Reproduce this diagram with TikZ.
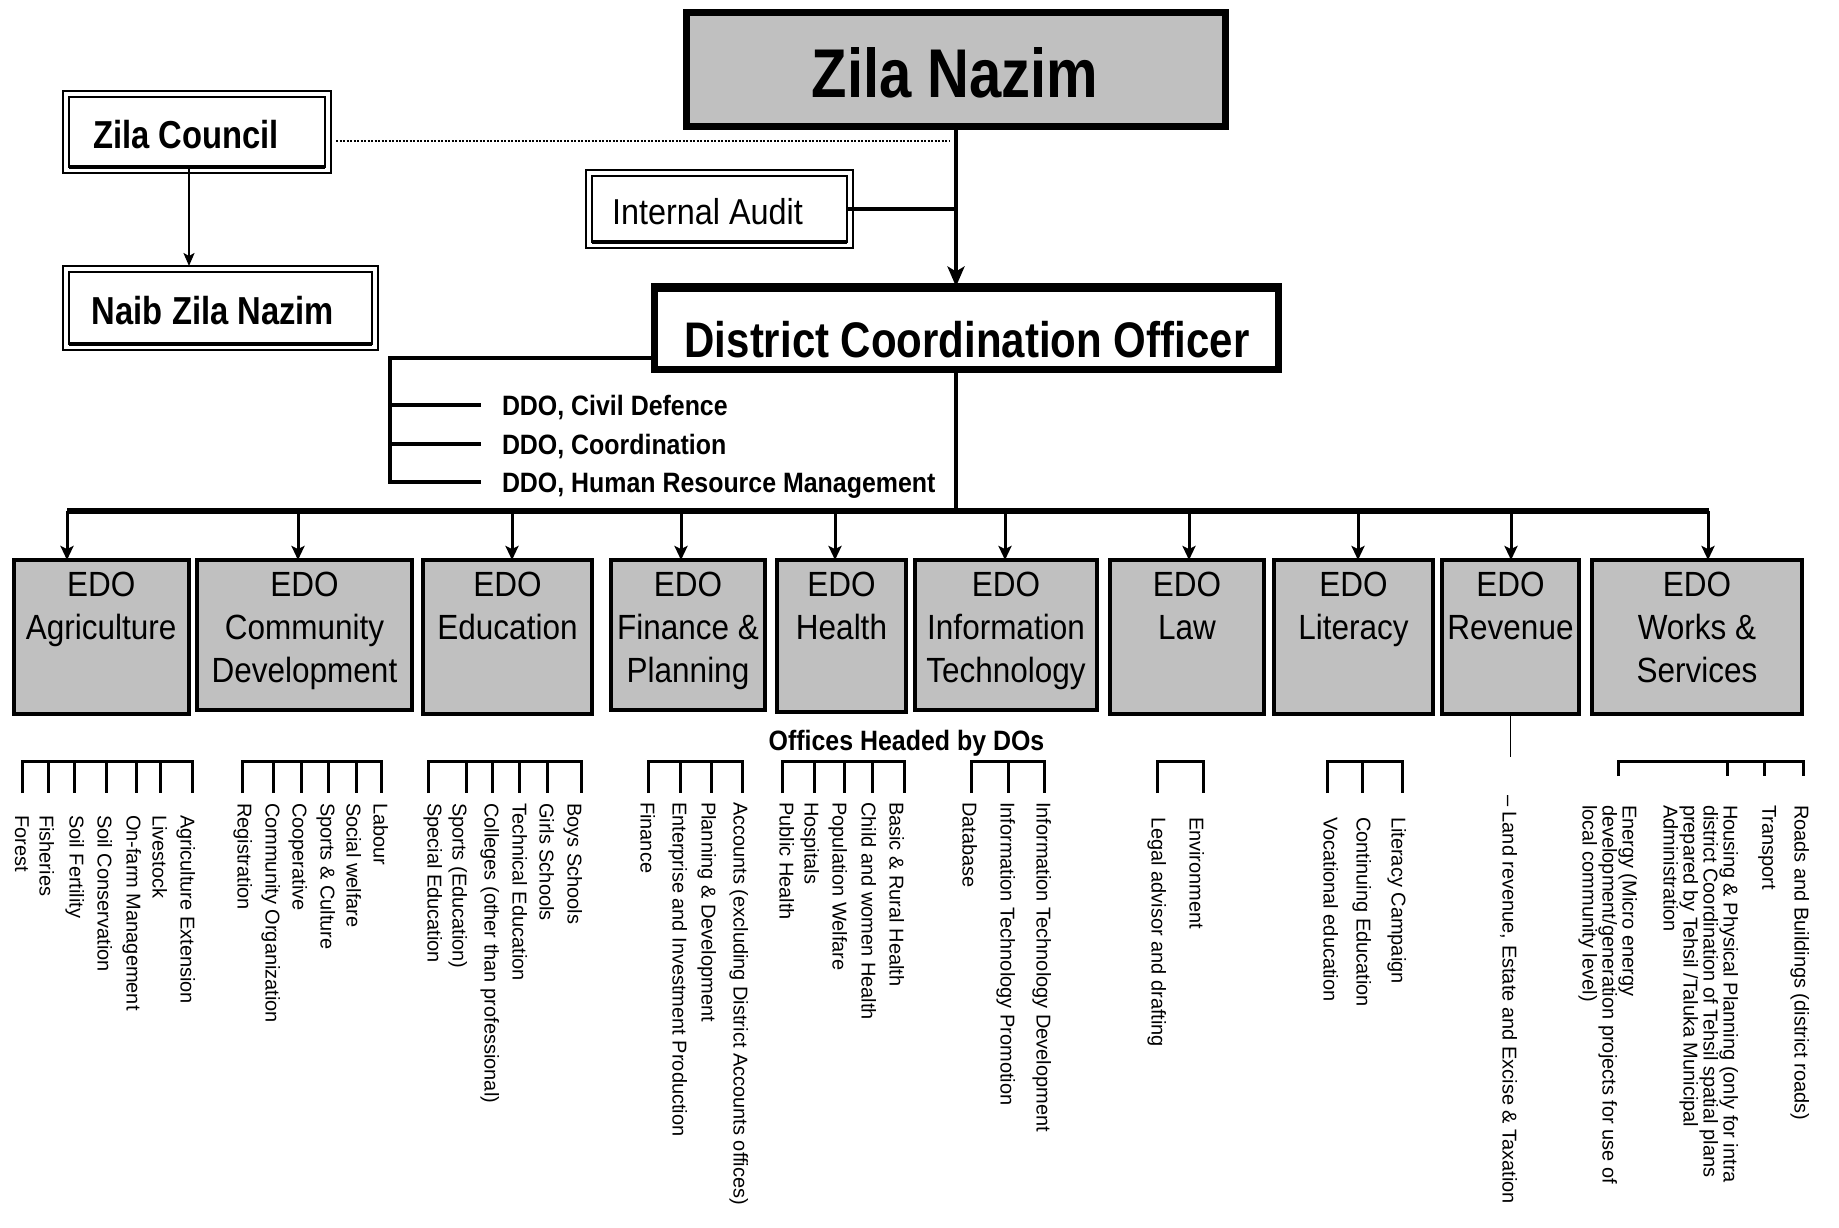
\documentclass[tikz,border=0pt]{standalone}
\usepackage{fontspec}
\setmainfont{Liberation Sans}
\newfontfamily\hdfont[FakeStretch=0.84]{Liberation Sans}
\newfontfamily\ddofont[FakeStretch=0.89]{Liberation Sans}
\newfontfamily\edofont[FakeStretch=0.90]{Liberation Sans}
\usetikzlibrary{arrows.meta}
\definecolor{boxgray}{HTML}{C0C0C0}
\newcommand\obracket[4]{%
  \draw[brk] (#1,#4) -- (#1,761) -- (#2,761) -- (#2,#4);
  \foreach \xx in {#3} {\draw[brk] (\xx,761) -- (\xx,#4);}%
}
\begin{document}
\begin{tikzpicture}[x=1pt,y=-1pt,
  every node/.style={inner sep=0pt,outer sep=0pt},
  graybox/.style={draw,fill=boxgray,line width=7pt},
  whitebox/.style={draw,fill=white,line width=7pt},
  dblbox/.style={draw,fill=white,line width=2.5pt},
  edobox/.style={draw,fill=boxgray,line width=4pt},
  conn/.style={line width=4.5pt},
  brk/.style={line width=3pt},
  edoarrow/.style={line width=3pt,-{Stealth[length=14pt,width=13pt,inset=3pt]}},
  hd/.style={font=\hdfont\bfseries\fontsize{#1}{#1}\selectfont,anchor=base},
  ddo/.style={font=\ddofont\bfseries\fontsize{28}{28}\selectfont,anchor=west,text height=20pt,text depth=0pt},
  edotext/.style={font=\edofont\fontsize{35}{43}\selectfont,align=center,anchor=north},
  sub/.style={font=\fontsize{20}{20}\selectfont,rotate=-90,anchor=north west,align=left},
]
\fill[white] (0,0) rectangle (1839,1228);
\useasboundingbox (0,0) rectangle (1839,1228);

% ---------- top boxes ----------
\node[graybox,minimum width=539pt,minimum height=114pt] (zn) at (956,69.5) {};
\node[hd=69] (znt) at (955,98) {Zila Nazim};

\node[dblbox,minimum width=256pt,minimum height=70pt] (zc) at (197,132) {};
\draw[line width=1.2pt] ([shift={(-6,-6)}]zc.north west) rectangle ([shift={(6,6)}]zc.south east);
\draw[line width=4pt] (zc.south west) -- (zc.south east);
\node[hd=39] (zct) at (186,149) {Zila Council};

\node[dblbox,minimum width=303pt,minimum height=72pt] (nz) at (220.5,308) {};
\draw[line width=1.2pt] ([shift={(-6,-6)}]nz.north west) rectangle ([shift={(6,6)}]nz.south east);
\draw[line width=4pt] (nz.south west) -- (nz.south east);
\node[hd=39] (nzt) at (213,324) {Naib Zila Nazim};

\node[dblbox,minimum width=255pt,minimum height=66pt] (ia) at (719.5,209) {};
\draw[line width=1.2pt] ([shift={(-6,-6)}]ia.north west) rectangle ([shift={(6,6)}]ia.south east);
\draw[line width=4pt] (ia.south west) -- (ia.south east);
\node[font=\edofont\fontsize{36}{36}\selectfont,anchor=base] (iat) at (707.5,224) {Internal Audit};

\node[whitebox,minimum width=624pt,minimum height=83pt] (dco) at (966.5,328) {};
\draw[line width=9pt] ([shift={(0,1)}]dco.north west) -- ([shift={(0,1)}]dco.north east);
\node[hd=50] (dcot) at (967,357) {District Coordination Officer};

\node[ddo] (ddo1) at (502,405) {DDO, Civil Defence};
\node[ddo] (ddo2) at (502,444) {DDO, Coordination};
\node[ddo] (ddo3) at (502,482) {DDO, Human Resource Management};

% ---------- top connectors ----------
\draw[conn,-{Stealth[length=20pt,width=17pt,inset=5pt]}] (zn.south) -- (zn.south |- dco.north);
\draw[conn] (ia.east) -- (ia.east -| zn.south);
\path ([xshift=11pt]zc.east) coordinate (dotL);
\path ([xshift=-7pt]zn.south) coordinate (dotR);
\draw[line width=2.4pt,dash pattern=on 2pt off 1.5pt] (dotL |- 0,141) -- (dotR |- 0,141);
\draw[line width=2.2pt,-{Stealth[length=13pt,width=11pt,inset=3pt]},shorten >=6pt] (189,0 |- zc.south) -- (189,0 |- nz.north);

\draw[conn] (dco.west |- 0,358) -| (390,0 |- ddo3.west) -- ([xshift=-21pt]ddo3.west);
\draw[conn] (390,0 |- ddo1.west) -- ([xshift=-21pt]ddo1.west);
\draw[conn] (390,0 |- ddo2.west) -- ([xshift=-21pt]ddo2.west);

\coordinate (busL) at (67,511);
\coordinate (busR) at (1709,511);
\draw[conn] (zn.south |- dco.south) -- (zn.south |- busL);
\draw[line width=6pt] (busL) -- (busR);

% ---------- EDO boxes ----------
\node[edobox,minimum width=175pt,minimum height=154pt] (agr) at (101.2,637) {};
\node[edobox,minimum width=215pt,minimum height=150pt] (com) at (304.5,635) {};
\node[edobox,minimum width=169pt,minimum height=154pt] (edu) at (507.5,637) {};
\node[edobox,minimum width=154pt,minimum height=150pt] (fin) at (688,635) {};
\node[edobox,minimum width=129pt,minimum height=152pt] (hea) at (841.5,636) {};
\node[edobox,minimum width=182pt,minimum height=150pt] (itc) at (1006,635) {};
\node[edobox,minimum width=154pt,minimum height=154pt] (law) at (1187,637) {};
\node[edobox,minimum width=159pt,minimum height=154pt] (lit) at (1353.5,637) {};
\node[edobox,minimum width=137pt,minimum height=154pt] (rev) at (1510.5,637) {};
\node[edobox,minimum width=210pt,minimum height=154pt] (wor) at (1697,637) {};

\foreach \ax/\bx in {67/agr,298/com,512/edu,681/fin,835/hea,1005/itc,1189/law,1358/lit,1511/rev,1708/wor}
  \draw[edoarrow] (\ax,511) -- (\ax,0 |- \bx.north);

\node[edotext] (agrt) at (agr.north |- 0,572) {EDO\\Agriculture};
\node[edotext] (comt) at (com.north |- 0,572) {EDO\\Community\\Development};
\node[edotext] (edut) at (edu.north |- 0,572) {EDO\\Education};
\node[edotext] (fint) at (fin.north |- 0,572) {EDO\\Finance \&\\Planning};
\node[edotext] (heat) at (hea.north |- 0,572) {EDO\\Health};
\node[edotext] (itct) at (itc.north |- 0,572) {EDO\\Information\\Technology};
\node[edotext] (lawt) at (law.north |- 0,572) {EDO\\Law};
\node[edotext] (litt) at (lit.north |- 0,572) {EDO\\Literacy};
\node[edotext] (revt) at (rev.north |- 0,572) {EDO\\Revenue};
\node[edotext] (wort) at (wor.north |- 0,572) {EDO\\Works \&\\Services};

\node[font=\ddofont\bfseries\fontsize{28}{28}\selectfont,anchor=base] (odo) at (906.5,750) {Offices Headed by DOs};

% ---------- office brackets ----------
\obracket{22}{192}{48,74,106,136,160}{793}
\obracket{242}{381}{273,301,328,356}{793}
\obracket{428}{581}{466,492,519,547}{793}
\obracket{648}{742}{680,711}{793}
\obracket{782}{904}{814,844,872}{793}
\obracket{971}{1044}{1008}{793}
\obracket{1157}{1203}{1157}{793}
\obracket{1327}{1402}{1362}{793}
\obracket{1618}{1803}{1727,1764}{776}
\draw[line width=1.5pt] (rev.south) -- (rev.south |- 0,757);

% ---------- offices ----------
\node[sub] (a1) at (29,815) {Forest};
\node[sub] (a2) at (54,815) {Fisheries};
\node[sub] (a3) at (84,815) {Soil Fertility};
\node[sub] (a4) at (112,815) {Soil Conservation};
\node[sub] (a5) at (141,815) {On-farm Management};
\node[sub] (a6) at (167,815) {Livestock};
\node[sub] (a7) at (195,815) {Agriculture Extension};
\node[sub] (c1) at (252,803) {Registration};
\node[sub] (c2) at (280,803) {Community Organization};
\node[sub] (c3) at (307,803) {Cooperative};
\node[sub] (c4) at (335,803) {Sports \& Culture};
\node[sub] (c5) at (361,803) {Social welfare};
\node[sub] (c6) at (388,803) {Labour};
\node[sub] (e1) at (442,803) {Special Education};
\node[sub] (e2) at (467,803) {Sports (Education)};
\node[sub] (e3) at (499,803) {Colleges (other than professional)};
\node[sub] (e4) at (527,803) {Technical Education};
\node[sub] (e5) at (554,803) {Girls Schools};
\node[sub] (e6) at (582,803) {Boys Schools};
\node[sub] (f1) at (655,802) {Finance};
\node[sub] (f2) at (687,802) {Enterprise and Investment Production};
\node[sub] (f3) at (716,802) {Planning \& Development};
\node[sub] (f4) at (748,802) {Accounts (excluding District Accounts offices)};
\node[sub] (h1) at (794,802) {Public Health};
\node[sub] (h2) at (819,802) {Hospitals};
\node[sub] (h3) at (847,802) {Population Welfare};
\node[sub] (h4) at (876,802) {Child and women Health};
\node[sub] (h5) at (904,802) {Basic \& Rural Health};
\node[sub] (t1) at (977,802) {Database};
\node[sub] (t2) at (1015,802) {Information Technology Promotion};
\node[sub] (t3) at (1051,802) {Information Technology Development};
\node[sub] (l1) at (1166,817) {Legal advisor and drafting};
\node[sub] (l2) at (1204,817) {Environment};
\node[sub] (y1) at (1338,817) {Vocational education};
\node[sub] (y2) at (1371,817) {Continuing Education};
\node[sub] (y3) at (1406,817) {Literacy Campaign};
\node[sub] (r1) at (1517,795) {– Land revenue, Estate and Excise \& Taxation};
\node[sub] (w1) at (1637,805) {Energy (Micro energy\\development/generation projects for use of\\local community level)};
\node[sub] (w2) at (1738,805) {Housing \& Physical Planning (only for intra\\district Coordination of Tehsil spatial plans\\prepared by Tehsil /Taluka Municipal\\Administration};
\node[sub] (w3) at (1776,805) {Transport};
\node[sub] (w4) at (1809,805) {Roads and Buildings (district roads)};
\end{tikzpicture}
\end{document}
